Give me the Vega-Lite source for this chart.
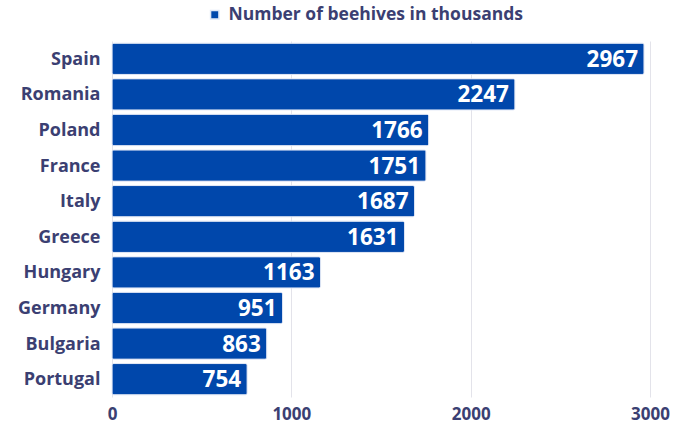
{
  "$schema": "https://vega.github.io/schema/vega-lite/v6.json",
  "autosize": {"type": "none"},
  "padding": {"left": 112, "top": 41, "right": 24, "bottom": 29},
  "width": 538,
  "height": 356,
  "background": "white",
  "config": {
    "font": "Open Sans",
    "view": {"stroke": null}
  },
  "data": {
    "values": [
      {"country": "Spain", "series": "Number of beehives in thousands", "value": 2967},
      {"country": "Romania", "series": "Number of beehives in thousands", "value": 2247},
      {"country": "Poland", "series": "Number of beehives in thousands", "value": 1766},
      {"country": "France", "series": "Number of beehives in thousands", "value": 1751},
      {"country": "Italy", "series": "Number of beehives in thousands", "value": 1687},
      {"country": "Greece", "series": "Number of beehives in thousands", "value": 1631},
      {"country": "Hungary", "series": "Number of beehives in thousands", "value": 1163},
      {"country": "Germany", "series": "Number of beehives in thousands", "value": 951},
      {"country": "Bulgaria", "series": "Number of beehives in thousands", "value": 863},
      {"country": "Portugal", "series": "Number of beehives in thousands", "value": 754}
    ]
  },
  "encoding": {
    "y": {
      "field": "country", "type": "nominal", "sort": null,
      "scale": {"paddingInner": 0.12, "paddingOuter": 0.06},
      "axis": {"title": null, "ticks": false, "domain": false, "labelFontSize": 18, "labelFontWeight": "bold", "labelColor": "#3b3f72", "labelPadding": 12, "labelBaseline": "middle", "labelOffset": 1}
    },
    "x": {
      "field": "value", "type": "quantitative",
      "scale": {"domain": [0, 3000], "nice": false},
      "axis": {"title": null, "values": [0, 1000, 2000, 3000], "format": "d", "ticks": false, "domain": false, "grid": true, "gridColor": "#e3e3ea", "labelFontSize": 17, "labelFontWeight": "bold", "labelColor": "#3b3f72", "labelPadding": 9, "labelFlush": false}
    }
  },
  "layer": [
    {
      "mark": {"type": "bar", "cornerRadius": 2, "stroke": "#dfe6f5", "strokeWidth": 0.8},
      "encoding": {
        "color": {
          "field": "series", "type": "nominal",
          "scale": {"range": ["#0047ab"]},
          "legend": {"title": null, "orient": "none", "legendX": 94, "legendY": -35, "symbolType": "square", "symbolSize": 70, "labelFontSize": 17.5, "labelFontWeight": "bold", "labelColor": "#3b3f72", "labelOffset": 5, "labelLimit": 500}
        }
      }
    },
    {
      "mark": {"type": "text", "align": "right", "baseline": "middle", "dx": -6, "dy": 1, "fontSize": 22.5, "fontWeight": "bold", "color": "white"},
      "encoding": {"text": {"field": "value", "type": "quantitative"}}
    }
  ]
}
